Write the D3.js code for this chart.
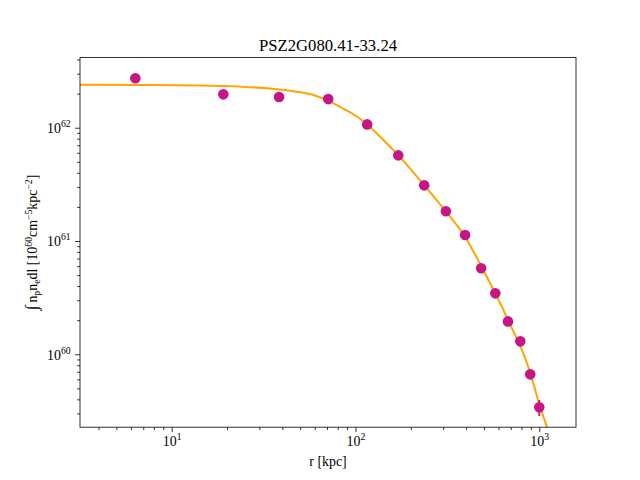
<!DOCTYPE html>
<html>
<head>
<meta charset="utf-8">
<script src="https://cdn.jsdelivr.net/npm/d3@7"></script>
<style>
  body { margin: 0; background: #fff; }
  text { font-family: "Liberation Serif", "DejaVu Serif", serif; fill: #000; }
</style>
</head>
<body>
<svg id="chart" width="640" height="480"></svg>
<script>
// measured profile (r in kpc, integrated emission in 1e60-ish units)
var radius = [6.34, 19.1, 38.4, 71.1, 115.9, 171, 236.6, 310.5, 395, 483, 576.8, 676, 788.6, 893.7, 1000];
var signal = [2.73e62, 1.97e62, 1.87e62, 1.79e62, 1.07e62, 5.70e61, 3.10e61, 1.83e61, 1.13e61,
    5.74e60, 3.45e60, 1.95e60, 1.30e60, 6.65e59, 3.40e59];
var signalErr = [0, 0, 0, 0, 0, 0, 0, 0, 0, 0, 0, 0, 0, 0, 0.55e59];

// fitted model curve
var modelRadius = [3.17, 6.72, 14.26, 23.53, 34.26, 46.87, 60.2, 72.65, 87.7, 101.9, 115.9, 141.1,
    171, 201.6, 236.7, 272.4, 310.8, 352.3, 395.8, 438.5, 483.5, 529.2, 576.5, 626.8, 675.6,
    733.1, 788.2, 841.1, 893.1, 947.5, 1000, 1054, 1115];
var modelSignal = [2.396e62, 2.387e62, 2.362e62, 2.306e62, 2.218e62, 2.087e62, 1.924e62, 1.703e62,
    1.448e62, 1.256e62, 1.067e62, 7.87e61, 5.71e61, 4.23e61, 3.10e61, 2.37e61, 1.82e61, 1.413e61,
    1.085e61, 8.08e60, 6.02e60, 4.53e60, 3.44e60, 2.62e60, 2.01e60, 1.526e60, 1.184e60, 9.09e59,
    6.84e59, 4.94e59, 3.60e59, 2.80e59, 2.15e59];

var xMajorTicks = [10, 100, 1000];
var yMajorTicks = [1e60, 1e61, 1e62];
var xDomain = [3.17, 1585];
var yDomain = [2.27e59, 4.16e62];
var titleText = 'PSZ2G080.41-33.24';

var dim = { left: 80, top: 57.6, width: 496, height: 369.6 };
var pointColor = '#c71585', lineColor = '#ffa500';

var svg = d3.select('#chart');
var xScale = d3.scaleLog().domain(xDomain).range([dim.left, dim.left + dim.width]);
var yScale = d3.scaleLog().domain(yDomain).range([dim.top + dim.height, dim.top]);

svg.append('defs').append('clipPath').attr('id', 'plotClip')
    .append('rect')
    .attr('x', dim.left).attr('y', dim.top)
    .attr('width', dim.width).attr('height', dim.height);

var plot = svg.append('g').attr('clip-path', 'url(#plotClip)');

var line = d3.line()
    .x(function(d) { return xScale(d[0]); })
    .y(function(d) { return yScale(d[1]); })
    .curve(d3.curveMonotoneX);

plot.append('path')
    .datum(d3.zip(modelRadius, modelSignal))
    .attr('d', line)
    .attr('fill', 'none')
    .attr('stroke', lineColor)
    .attr('stroke-width', 2);

var points = d3.range(radius.length).map(function(i) {
    return { r: radius[i], v: signal[i], e: signalErr[i] };
});

plot.selectAll('line.err')
    .data(points.filter(function(d) { return d.e > 0; }))
    .enter().append('line')
    .attr('class', 'err')
    .attr('x1', function(d) { return xScale(d.r); })
    .attr('x2', function(d) { return xScale(d.r); })
    .attr('y1', function(d) { return yScale(d.v - d.e); })
    .attr('y2', function(d) { return yScale(d.v + d.e); })
    .attr('stroke', pointColor)
    .attr('stroke-width', 1.8);

plot.selectAll('circle')
    .data(points)
    .enter().append('circle')
    .attr('cx', function(d) { return xScale(d.r); })
    .attr('cy', function(d) { return yScale(d.v); })
    .attr('r', 5.3)
    .attr('fill', pointColor);

// axes: majors with labels, minors from the scale's own ticks
function isMajor(majors) {
    return function(v) {
        return majors.some(function(m) { return Math.abs(v / m - 1) < 1e-6; });
    };
}

var xMinor = xScale.ticks().filter(function(v) { return !isMajor(xMajorTicks)(v); });
var yMinor = yScale.ticks().filter(function(v) { return !isMajor(yMajorTicks)(v); });

function styleAxis(g) {
    g.select('.domain').remove();
    g.selectAll('line').attr('stroke', '#000').attr('stroke-width', 0.8);
}

var bottomY = dim.top + dim.height;
svg.append('g')
    .attr('transform', 'translate(0,' + bottomY + ')')
    .call(d3.axisBottom(xScale).tickValues(xMinor).tickSize(2.8).tickFormat(''))
    .call(styleAxis);
var xAxisG = svg.append('g')
    .attr('transform', 'translate(0,' + bottomY + ')')
    .call(d3.axisBottom(xScale).tickValues(xMajorTicks).tickSize(4.9).tickPadding(4.5)
        .tickFormat(function(d) { return Math.round(Math.log10(d)); }))
    .call(styleAxis);

svg.append('g')
    .attr('transform', 'translate(' + dim.left + ',0)')
    .call(d3.axisLeft(yScale).tickValues(yMinor).tickSize(2.8).tickFormat(''))
    .call(styleAxis);
var yAxisG = svg.append('g')
    .attr('transform', 'translate(' + dim.left + ',0)')
    .call(d3.axisLeft(yScale).tickValues(yMajorTicks).tickSize(4.9).tickPadding(4.5)
        .tickFormat(function(d) { return Math.round(Math.log10(d)); }))
    .call(styleAxis);

function powerLabel(text) {
    text.each(function() {
        var t = d3.select(this), exp = t.text();
        t.text(null);
        t.append('tspan').text('10');
        t.append('tspan').attr('dy', -6).attr('font-size', '70%').text(exp);
    });
}

xAxisG.selectAll('text')
    .attr('font-size', 13.9)
    .attr('font-family', null)
    .call(powerLabel);
yAxisG.selectAll('text')
    .attr('font-size', 13.9)
    .attr('font-family', null)
    .attr('dy', '0.35em')
    .call(powerLabel);

svg.append('rect')
    .attr('x', dim.left).attr('y', dim.top)
    .attr('width', dim.width).attr('height', dim.height)
    .attr('fill', 'none')
    .attr('stroke', '#000')
    .attr('stroke-width', 0.8);

// titles
svg.append('text')
    .attr('x', dim.left + dim.width / 2)
    .attr('y', 51)
    .attr('text-anchor', 'middle')
    .attr('font-size', 16.7)
    .text(titleText);

svg.append('text')
    .attr('x', dim.left + dim.width / 2)
    .attr('y', 466)
    .attr('text-anchor', 'middle')
    .attr('font-size', 13.9)
    .text('r [kpc]');

function richText(sel, parts) {
    var shift = 0;
    parts.forEach(function(p) {
        var target = p.sup ? -5 : (p.sub ? 3 : 0);
        sel.append('tspan')
            .attr('dy', target - shift)
            .attr('font-size', (p.sup || p.sub) ? '70%' : (p.big ? '125%' : null))
            .text(p.t);
        shift = target;
    });
}

var yLabel = svg.append('text')
    .attr('transform', 'translate(37,' + (dim.top + dim.height / 2) + ') rotate(-90)')
    .attr('text-anchor', 'middle')
    .attr('font-size', 13.9);
richText(yLabel, [
    { t: '\u222B', big: true }, { t: '\u2009n' }, { t: 'p', sub: true }, { t: 'n' }, { t: 'e', sub: true },
    { t: 'dl [10' }, { t: '60', sup: true }, { t: 'cm' }, { t: '\u22125', sup: true },
    { t: 'kpc' }, { t: '\u22122', sup: true }, { t: ']' }
]);
</script>
</body>
</html>
